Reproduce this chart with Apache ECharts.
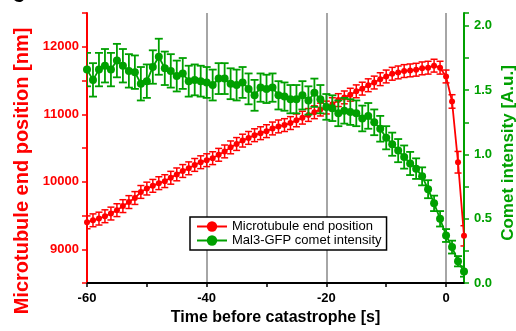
<!DOCTYPE html>
<html>
<head>
<meta charset="utf-8">
<script src="https://cdn.jsdelivr.net/npm/echarts@6/dist/echarts.min.js"></script>
<style>
  html, body { margin: 0; padding: 0; background: #fff; }
  #chart { width: 516px; height: 331px; }
</style>
</head>
<body>
<div id="chart"></div>
<script>
// time before catastrophe [s]
var times = [-60, -59, -58, -57, -56, -55, -54, -53, -52, -51, -50, -49, -48, -47, -46, -45,
  -44, -43, -42, -41, -40, -39, -38, -37, -36, -35, -34, -33, -32, -31, -30, -29,
  -28, -27, -26, -25, -24, -23, -22, -21, -20, -19, -18, -17, -16, -15, -14, -13,
  -12, -11, -10, -9, -8, -7, -6, -5, -4, -3, -2, -1, 0, 1, 2, 3];
// microtubule end position [nm]
var position = [9400, 9430, 9455, 9490, 9530, 9580, 9640, 9700, 9760, 9850, 9900, 9940, 9980, 10010, 10060, 10110,
  10160, 10200, 10250, 10290, 10320, 10350, 10400, 10450, 10510, 10560, 10610, 10650, 10690, 10720, 10750, 10790,
  10820, 10840, 10870, 10910, 10950, 10990, 11030, 11070, 11100, 11150, 11210, 11250, 11290, 11340, 11380, 11430,
  11470, 11520, 11560, 11600, 11620, 11640, 11650, 11660, 11680, 11690, 11720, 11690, 11560, 11190, 10290, 9200];
var positionErr = [95, 95, 95, 95, 95, 95, 95, 95, 95, 95, 95, 95, 95, 95, 95, 95,
  95, 95, 95, 95, 95, 95, 95, 95, 95, 95, 95, 95, 95, 95, 95, 95,
  95, 95, 95, 95, 95, 95, 95, 95, 95, 95, 95, 95, 95, 95, 95, 95,
  95, 95, 95, 95, 95, 95, 95, 95, 95, 95, 95, 95, 95, 100, 160, 150];
// Mal3-GFP comet intensity [A.u.]
var intensity = [1.66, 1.58, 1.66, 1.69, 1.66, 1.73, 1.69, 1.65, 1.64, 1.55, 1.57, 1.68, 1.76, 1.67, 1.65, 1.61,
  1.63, 1.57, 1.58, 1.57, 1.56, 1.54, 1.59, 1.59, 1.55, 1.54, 1.56, 1.51, 1.46, 1.52, 1.51, 1.52,
  1.46, 1.45, 1.43, 1.43, 1.46, 1.42, 1.48, 1.43, 1.37, 1.36, 1.32, 1.34, 1.33, 1.32, 1.28, 1.30,
  1.25, 1.20, 1.13, 1.08, 1.03, 0.98, 0.93, 0.89, 0.83, 0.73, 0.62, 0.50, 0.37, 0.28, 0.17, 0.09];
var intensityErr = [0.13, 0.13, 0.13, 0.13, 0.13, 0.13, 0.13, 0.13, 0.13, 0.13, 0.13, 0.13, 0.14, 0.13, 0.13, 0.12,
  0.12, 0.12, 0.12, 0.12, 0.12, 0.12, 0.12, 0.12, 0.12, 0.12, 0.12, 0.12, 0.12, 0.11, 0.11, 0.11,
  0.11, 0.11, 0.11, 0.11, 0.11, 0.11, 0.11, 0.11, 0.10, 0.10, 0.10, 0.10, 0.10, 0.10, 0.10, 0.10,
  0.10, 0.10, 0.09, 0.09, 0.09, 0.09, 0.09, 0.08, 0.07, 0.07, 0.06, 0.06, 0.05, 0.05, 0.04, 0.04];

var xTicks = [-60, -50, -40, -30, -20, -10, 0];
var xLabels = [-60, -40, -20, 0];
var leftLabels = [9000, 10000, 11000, 12000];
var rightLabels = [0, 0.5, 1, 1.5, 2];

var RED = '#ff0000';
var GREEN = '#00a000';
var FONT = 'Liberation Sans, Arial, sans-serif';

function pairs(ys) {
    var out = [];
    for (var i = 0; i < times.length; i++) out.push([times[i], ys[i]]);
    return out;
}
function errData(ys, es) {
    var out = [];
    for (var i = 0; i < times.length; i++) out.push([times[i], ys[i] - es[i], ys[i] + es[i]]);
    return out;
}
// error bar drawn from the axis scales
function errRender(capW, color, lw) {
    return function (params, api) {
        var x = api.value(0);
        var lo = api.coord([x, api.value(1)]);
        var hi = api.coord([x, api.value(2)]);
        var st = { stroke: color, lineWidth: lw };
        return {
            type: 'group',
            children: [
                { type: 'line', shape: { x1: hi[0], y1: hi[1], x2: lo[0], y2: lo[1] }, style: st },
                { type: 'line', shape: { x1: hi[0] - capW / 2, y1: hi[1], x2: hi[0] + capW / 2, y2: hi[1] }, style: st },
                { type: 'line', shape: { x1: lo[0] - capW / 2, y1: lo[1], x2: lo[0] + capW / 2, y2: lo[1] }, style: st }
            ]
        };
    };
}

var chart = echarts.init(document.getElementById('chart'));
chart.setOption({
    animation: false,
    textStyle: { fontFamily: FONT },
    grid: { left: 87, right: 52, top: 13, bottom: 43 },
    legend: {
        data: ['Microtubule end position', 'Mal3-GFP comet intensity'],
        orient: 'vertical',
        left: 190,
        top: 217,
        itemWidth: 30,
        itemHeight: 13,
        itemGap: 1,
        padding: [3, 5, 3, 6],
        backgroundColor: '#fff',
        borderColor: '#000',
        borderWidth: 1.5,
        textStyle: { fontSize: 13, color: '#000', fontFamily: FONT }
    },
    xAxis: [
        {
            type: 'value',
            min: -60,
            max: 3,
            interval: 10,
            name: 'Time before catastrophe [s]',
            nameLocation: 'middle',
            nameGap: 26,
            nameTextStyle: { fontSize: 16, fontWeight: 'bold', color: '#000', fontFamily: FONT },
            axisLine: { onZero: false, lineStyle: { color: '#000', width: 2 } },
            axisTick: { customValues: xTicks, length: 4, lineStyle: { color: '#000', width: 1.5 } },
            axisLabel: {
                customValues: xLabels, margin: 9,
                fontSize: 13, fontWeight: 'bold', color: '#000', fontFamily: FONT
            },
            splitLine: { show: false }
        },
        {
            // only carries the gray vertical grid lines
            type: 'value',
            min: -60,
            max: 3,
            interval: 20,
            position: 'bottom',
            axisLine: { show: false },
            axisTick: { show: false },
            axisLabel: { show: false },
            splitLine: { show: true, lineStyle: { color: '#a6a6a6', width: 2 } }
        }
    ],
    yAxis: [
        {
            type: 'value',
            min: 8500,
            max: 12500,
            interval: 500,
            position: 'left',
            axisLine: { show: true, onZero: false, lineStyle: { color: RED, width: 2 } },
            axisTick: { show: true, length: 5, lineStyle: { color: RED, width: 1.5 } },
            axisLabel: {
                customValues: leftLabels, margin: 8,
                formatter: function (v) { return String(v); },
                fontSize: 13, fontWeight: 'bold', color: RED, fontFamily: FONT
            },
            splitLine: { show: false }
        },
        {
            type: 'value',
            min: 0,
            max: 2.1,
            interval: 0.25,
            position: 'right',
            axisLine: { show: true, onZero: false, lineStyle: { color: GREEN, width: 2 } },
            axisTick: { show: true, length: 5, lineStyle: { color: GREEN, width: 1.5 } },
            axisLabel: {
                customValues: rightLabels, margin: 10,
                formatter: function (v) { return v.toFixed(1); },
                fontSize: 13, fontWeight: 'bold', color: GREEN, fontFamily: FONT
            },
            splitLine: { show: false }
        }
    ],
    graphic: [
        {
            type: 'text', left: 12, top: -17,
            style: { text: 'c', fontSize: 24, fontWeight: 'bold', fill: '#000', fontFamily: FONT }
        },
        {
            type: 'text', x: 22, y: 171, rotation: Math.PI / 2,
            style: {
                text: 'Microtubule end position [nm]', fill: RED, fontSize: 20, fontWeight: 'bold',
                fontFamily: FONT, textAlign: 'center', textVerticalAlign: 'middle'
            }
        },
        {
            type: 'text', x: 508, y: 153, rotation: Math.PI / 2,
            style: {
                text: 'Comet intensity [A.u.]', fill: GREEN, fontSize: 17, fontWeight: 'bold',
                fontFamily: FONT, textAlign: 'center', textVerticalAlign: 'middle'
            }
        }
    ],
    series: [
        {
            name: 'pos-err',
            type: 'custom',
            xAxisIndex: 0,
            yAxisIndex: 0,
            clip: true,
            renderItem: errRender(7, RED, 1.5),
            encode: { x: 0, y: [1, 2] },
            data: errData(position, positionErr),
            z: 2
        },
        {
            name: 'Microtubule end position',
            type: 'line',
            xAxisIndex: 0,
            yAxisIndex: 0,
            data: pairs(position),
            symbol: 'circle',
            symbolSize: 6,
            showAllSymbol: true,
            itemStyle: { color: RED },
            lineStyle: { color: RED, width: 1.8 },
            z: 3
        },
        {
            name: 'int-err',
            type: 'custom',
            xAxisIndex: 0,
            yAxisIndex: 1,
            clip: true,
            renderItem: errRender(8, GREEN, 1.8),
            encode: { x: 0, y: [1, 2] },
            data: errData(intensity, intensityErr),
            z: 4
        },
        {
            name: 'Mal3-GFP comet intensity',
            type: 'line',
            xAxisIndex: 0,
            yAxisIndex: 1,
            data: pairs(intensity),
            symbol: 'circle',
            symbolSize: 8,
            showAllSymbol: true,
            itemStyle: { color: GREEN },
            lineStyle: { color: GREEN, width: 1.8 },
            z: 5
        }
    ]
});
</script>
</body>
</html>
